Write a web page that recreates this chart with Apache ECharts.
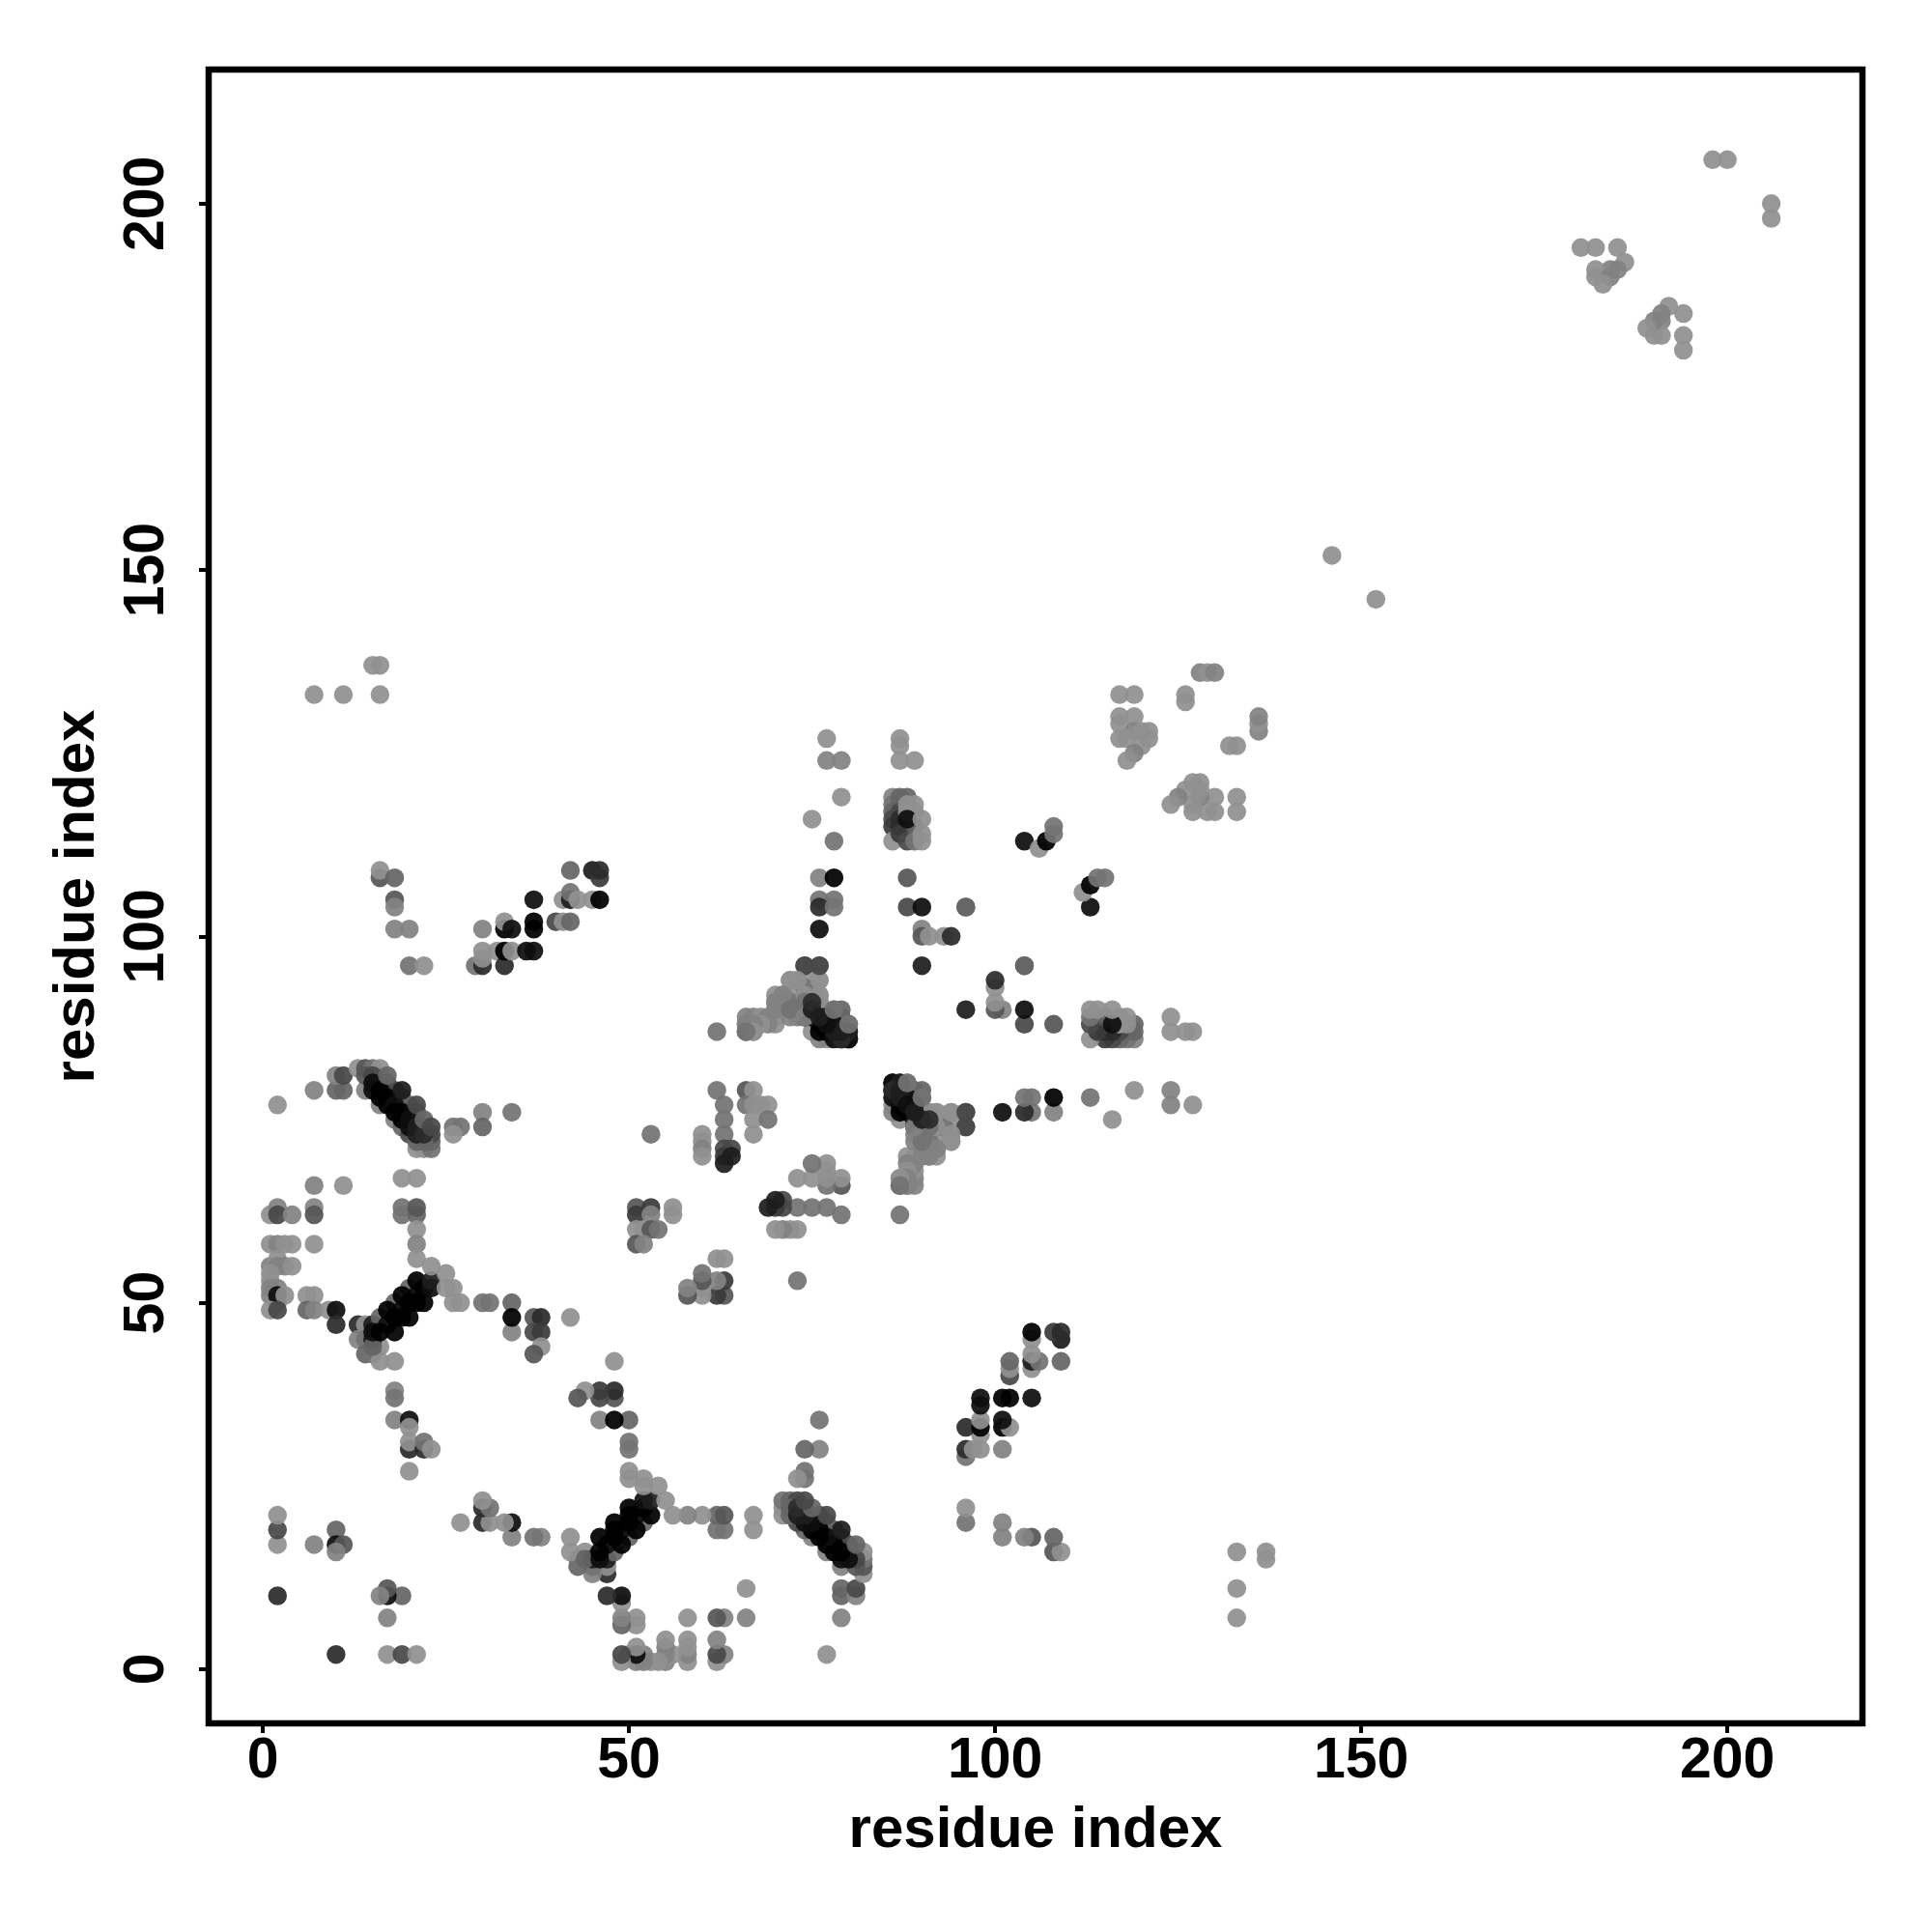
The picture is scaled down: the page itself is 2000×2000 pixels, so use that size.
<!DOCTYPE html>
<html>
<head>
<meta charset="utf-8">
<script src="https://cdn.jsdelivr.net/npm/echarts@6/dist/echarts.min.js"></script>
<style>html,body{margin:0;padding:0;background:#fff}#c{width:2000px;height:2000px}</style>
</head>
<body>
<div id="c"></div>
<script>
// each contact: [residue i, residue j, contact score 0-10]; the map is symmetric
const tickValues = [0, 50, 100, 150, 200];
const axisTitle = 'residue index';

const nearStart = [
[2,10,7],[2,17,0],[2,19,5],[2,21,0],
[7,17,1],[10,19,3],[10,17,9],[11,17,4],[10,16,1]
];
const leftColumn = [
[1,62,0],[2,63,1],[2,62,5],[4,62,1],[7,63,1],[7,62,4],
[1,58,0],[2,58,1],[3,58,0],[4,58,0],[7,58,0],
[1,55,1],[2,56,0],[2,55,1],[3,55,1],[4,55,0],[1,54,0],[1,53,0],
[1,52,1],[1,51,1],[2,52,1],[2,50,1],[2,51,9],[3,51,0],[1,49,0],[2,49,5],
[7,66,1],[11,66,0],[6,51,0],[7,51,0],[6,49,3],[7,49,1],[9,49,0],[10,49,9],[10,47,7]
];
const firstLadder = [
[13,47,7],[14,47,0],[13,45,1],[14,45,2],[14,43,3],[16,44,0],[15,43,2],[16,42,0],[18,42,0],
[15,47,8],[15,45,8],[15,44,3],[16,48,3],[18,50,3],[20,52,3],
[17,47,9],[19,49,9],[21,51,9],
[15,46,9],[16,46,10],[18,46,10],[17,49,10],[18,48,10],[19,48,10],[19,51,10],[20,48,10],
[20,50,10],[21,50,10],[21,53,10],[22,50,10],[22,52,10],[23,52,9],[23,53,8]
];
const firstBranch = [
[19,62,2],[19,63,2],[21,62,3],[21,63,4],[19,67,0],[21,67,0],[21,60,0],[21,58,1],[21,56,0],
[23,55,0],[25,54,0],[26,52,0],[25,52,0],[26,50,0],[27,50,0],[30,50,2],[31,50,2],
[34,50,3],[34,46,1],[34,48,10],[37,48,4],[38,48,7],[37,46,5],[38,46,6],[38,44,0],[37,43,4],[42,48,0],
[18,38,1],[18,37,2],[18,34,1],[20,34,9],[20,33,0],[20,30,7],[20,31,0],[22,30,7],[22,31,2],[23,30,0],[20,27,0],
[26,74,2],[27,74,2],[26,73,0],[30,76,1],[30,74,3],[34,76,2]
];
const secondLadder = [
[2,77,0],[7,79,1],[10,79,3],[11,79,3],[10,81,1],[11,81,5],
[13,82,0],[14,82,4],[15,82,2],[16,82,0],[14,79,1],[16,77,1],[18,75,1],[19,74,3],[20,73,5],
[21,71,0],[22,71,0],[23,71,2],[23,72,3],
[14,81,4],[15,81,5],[16,80,5],[17,80,4],[18,79,5],[18,78,5],[19,78,5],
[20,77,3],[21,76,5],[22,74,4],[23,73,5],[22,72,3],[21,72,3],
[15,80,9],[15,79,9],[16,79,10],[16,78,10],[17,78,10],[17,77,10],[18,77,9],[18,76,10],
[19,76,10],[19,75,10],[20,75,9],[20,74,9],[21,74,8],[21,73,8],[22,73,7],
[17,81,3],[19,79,8],[21,77,5],[22,75,3],[23,74,5]
];
const midBlock = [
[16,108,4],[16,109,0],[18,108,3],[18,105,4],[18,104,1],[18,101,1],[20,101,1],[20,96,2],[22,96,0],
[29,96,2],[30,96,7],[30,97,0],[30,98,0],[30,101,1],[32,98,0],[33,96,7],[33,98,10],[34,98,0],
[33,101,10],[33,102,0],[34,101,9],[36,98,9],[37,98,9],[37,101,10],[37,102,10],[37,105,9],
[40,102,5],[41,102,0],[42,102,3],[41,105,0],[42,105,8],[42,106,2],[43,105,0],[45,105,0],[46,105,10],
[42,109,3],[45,109,8],[46,108,6],[46,109,7],
[7,133,0],[11,133,0],[16,133,0],[15,137,0],[16,137,0]
];
const thirdBlock = [
[51,63,4],[53,63,6],[51,62,6],[53,62,1],[56,63,0],[56,62,0],[51,60,0],[52,60,0],[53,60,4],[54,60,2],
[51,58,4],[52,58,1],[53,73,2],[60,73,0],[60,72,0],[60,71,1],[60,70,0],
[62,79,2],[63,77,2],[63,75,2],[63,73,2],[63,71,5],[64,71,5],[63,70,6],[64,70,8],[63,69,8],
[66,79,4],[67,79,0],[66,77,2],[67,77,0],[68,77,0],[69,77,0],[67,75,0],[69,75,2],[67,73,0]
];
const triangleBlock = [
[62,87,2],[66,89,1],[67,89,1],[68,89,0],[69,89,1],[70,89,0],[66,88,1],[67,88,0],[66,87,4],[67,87,0],
[70,92,0],[70,91,0],[70,90,0],[72,94,0],[73,94,0],[75,94,0],[76,94,0],[71,92,1],[73,92,0],[75,92,0],[76,92,0],
[76,91,0],[71,91,2],[72,91,2],[72,90,2],[73,90,3],[73,89,1],[74,91,2],[75,91,1],[74,93,2],[74,92,2],
[74,96,4],[76,96,4],[74,90,3],[75,90,3],[76,90,4],[77,89,5],[78,89,5],[79,88,3],
[75,87,0],[77,86,0],[76,86,1],
[74,89,9],[75,89,10],[76,88,8],[76,87,10],[77,88,9],[77,87,10],[78,87,9],[78,86,9],[79,87,9],[79,86,10],[80,86,9],
[78,90,4],[80,88,2],[80,87,4]
];
const helixBlock = [
[76,108,1],[78,108,10],[76,105,2],[78,105,2],[76,104,7],[78,104,2],[76,101,9],[78,113,2],[77,127,0],
[77,124,1],[79,124,1],[79,119,0],[75,116,0],
[87,127,0],[87,126,0],[87,124,0],[89,124,0],
[86,119,1],[86,118,2],[86,117,3],[86,116,5],[86,115,6],[86,113,0],[87,119,3],[87,118,3],
[87,117,5],[87,116,7],[87,115,7],[87,114,6],[88,119,3],[88,113,5],[89,115,4],[89,113,2],
[88,118,0],[89,118,0],[89,117,0],[88,117,0],[88,116,9],[90,116,0],[90,114,0],[90,113,0],
[88,108,4],[88,104,5],[90,104,9],[96,104,3],[90,101,1],[90,100,4],[91,100,0],[93,100,0],[94,100,7],[90,96,8]
];
const strandBlock = [
[104,113,9],[106,112,0],[107,113,10],[108,114,2],[108,115,2],[104,96,3]
];
const cornerBlock = [
[117,133,0],[119,133,0],[117,130,0],[119,130,0],[117,129,0],[117,127,0],[119,128,1],[118,127,0],
[120,128,0],[121,128,0],[121,127,0],[120,126,0],[119,125,1],[118,124,0],
[126,133,0],[126,132,0],[128,136,1],[129,136,0],[130,136,1],
[146,152,0],[180,194,0],[182,194,0],[185,194,0],[186,192,0],[184,191,1],[185,191,1],[182,191,0],
[182,190,0],[184,190,1],[183,189,0],[198,206,0],[200,206,0]
];
const outerContacts = [
[76,91,0],[76,92,0],[76,94,0],[76,96,5],[74,96,5],
[70,88,0],[69,88,1],[68,88,0],[67,88,1],[66,88,1],[67,87,0],[66,87,2],[70,90,1],[70,91,1],
[74,92,0],[73,94,0],[72,94,0],[71,92,1],
[79,89,3],[79,90,3],[74,91,2],[73,90,2],[72,89,1],[72,90,2],[74,89,1],
[80,86,9],[80,87,8],[79,86,7],[78,88,9],[77,89,9],[79,87,8],[78,87,8],[77,88,9],[75,90,8],[75,91,7],[76,89,8],
[80,88,2],[78,90,2]
];
const contacts = [].concat(nearStart, leftColumn, firstLadder, firstBranch, secondLadder,
  midBlock, thirdBlock, triangleBlock, helixBlock, strandBlock, cornerBlock, outerContacts);
const points = [];
contacts.forEach(c => { points.push([c[0], c[1], c[2]]); });
contacts.forEach(c => { points.push([c[1], c[0], c[2]]); });

function shade(score) {
  const g = Math.round(144 - 14.4 * score);
  return 'rgb(' + g + ',' + g + ',' + g + ')';
}
const font = '"Liberation Sans", Arial, sans-serif';
const titleStyle = { fontFamily: font, fontWeight: 'bold', fontSize: 60, color: '#000' };
const tickLabelStyle = { fontFamily: font, fontWeight: 'bold', fontSize: 59, color: '#000' };
const tickStyle = { show: true, length: 10, inside: false, lineStyle: { color: '#000', width: 4 }, customValues: tickValues };
const hiddenLine = { show: false, onZero: false };
const chart = echarts.init(document.getElementById('c'), null, { renderer: 'canvas' });
chart.setOption({
  animation: false,
  backgroundColor: '#fff',
  grid: { left: 216, top: 72, width: 1712, height: 1712, show: true, borderColor: '#000', borderWidth: 6.5, backgroundColor: '#fff' },
  xAxis: {
    type: 'value', min: -7.4, max: 218.45, splitLine: { show: false },
    axisLine: hiddenLine, axisTick: tickStyle,
    axisLabel: Object.assign({ customValues: tickValues, margin: 10 }, tickLabelStyle),
    name: axisTitle, nameLocation: 'middle', nameGap: 81, nameTextStyle: titleStyle
  },
  yAxis: {
    type: 'value', min: -7.4, max: 218.3, splitLine: { show: false },
    axisLine: hiddenLine, axisTick: tickStyle,
    axisLabel: Object.assign({ customValues: tickValues, margin: 34, rotate: 90 }, tickLabelStyle),
    name: axisTitle, nameLocation: 'middle', nameGap: 106, nameRotate: 90, nameTextStyle: titleStyle
  },
  series: [{
    type: 'scatter', symbol: 'circle', symbolSize: 19.5, data: points,
    itemStyle: { opacity: 0.93, color: p => shade(p.value[2]) }
  }]
});
</script>
</body>
</html>
